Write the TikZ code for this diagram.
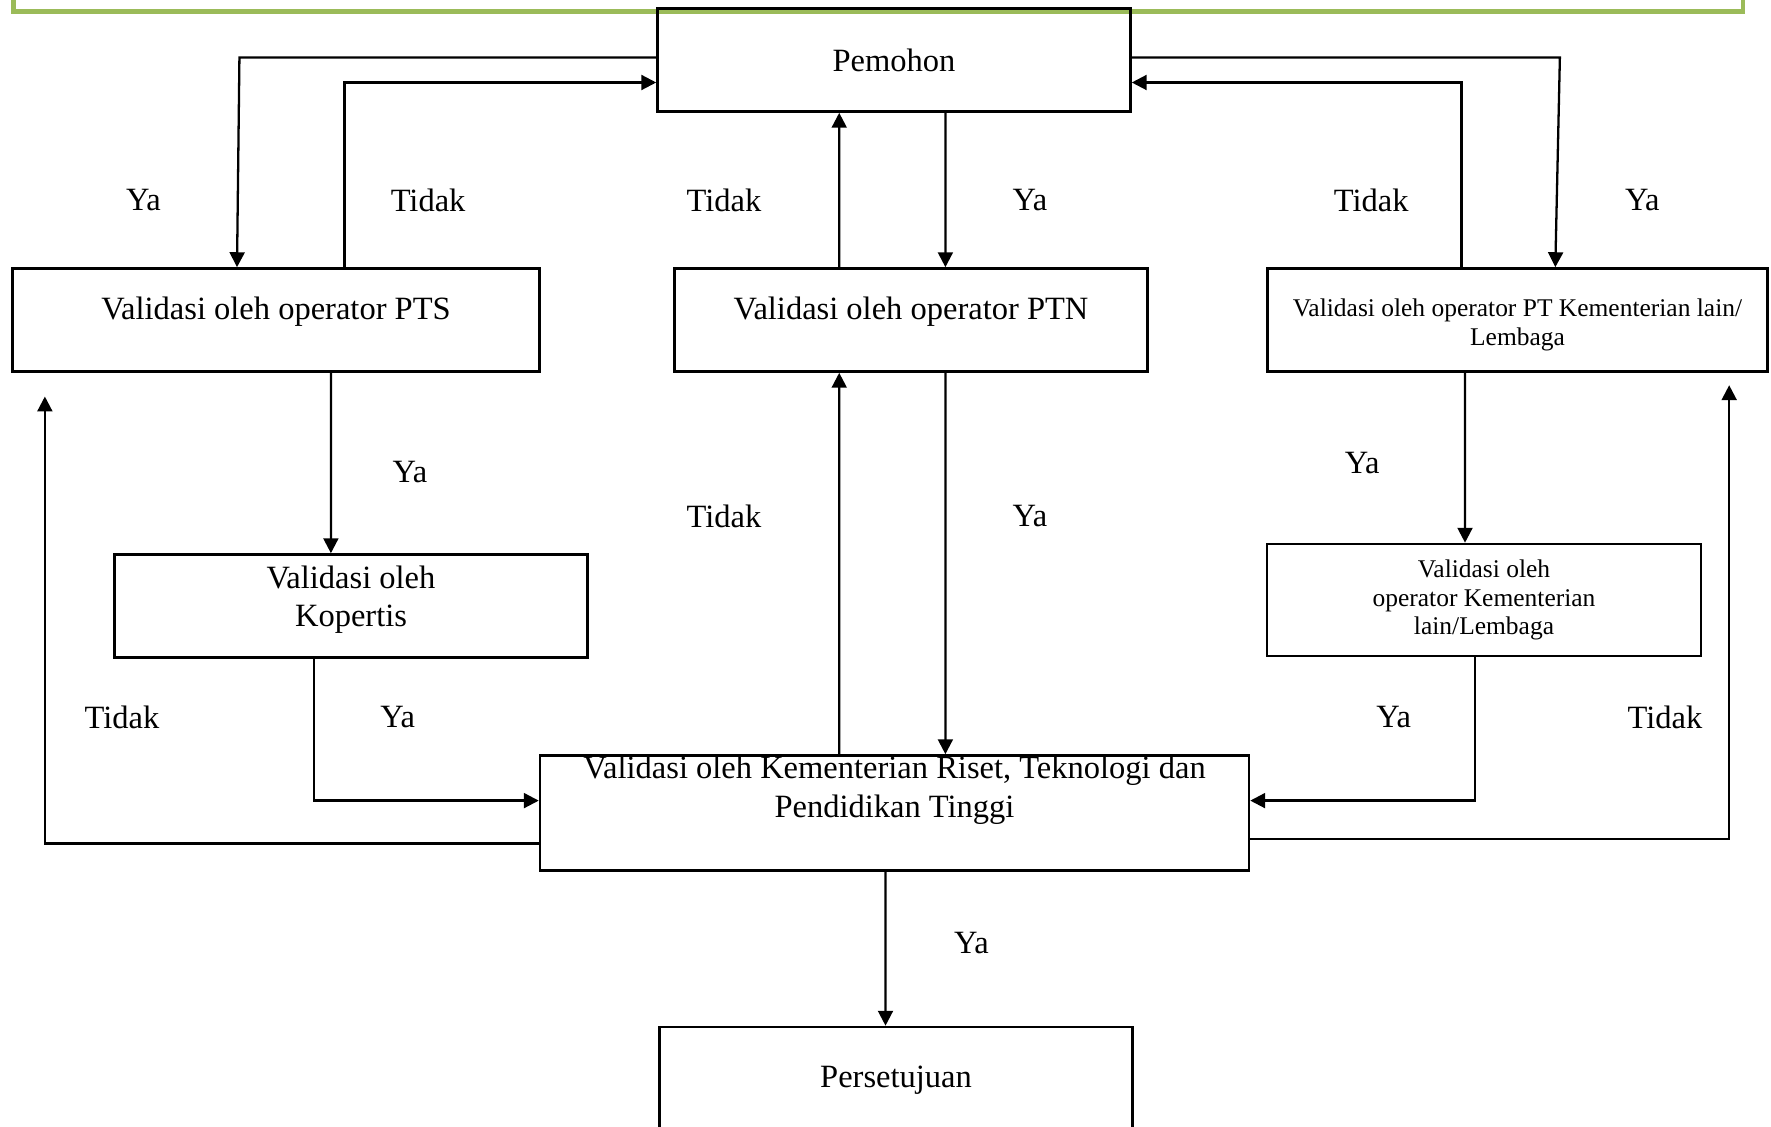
\documentclass[tikz,border=0pt]{standalone}
\usepackage{fontspec}
\setmainfont{Liberation Serif}
\usetikzlibrary{arrows.meta}
\definecolor{framegreen}{RGB}{155,187,89}
% invisible strut to lift or lower a box text
\newcommand{\lowstrut}[1]{\rule[-#1]{0pt}{#1}}
\newcommand{\highstrut}[1]{\rule{0pt}{#1}}

\tikzset{
  box/.style={draw,line width=1.5pt,minimum width=9.46cm,minimum height=2.06cm,
    align=center,font=\fontsize{18.5}{22}\selectfont},
  smallbox/.style={box,font=\fontsize{14.5}{16.3}\selectfont},
  lbl/.style={font=\fontsize{18.5}{22}\selectfont},
  arr/.style={->,line width=1.3pt},
}

\begin{document}
\begin{tikzpicture}[x=0.02cm,y=0.02cm,>={Triangle[length=8.5pt,width=8.5pt]}]
  \useasboundingbox (0,0) rectangle (1771,-1126);
  % green frame at the top
  \draw[framegreen,line width=0.09cm] (13.5,10) -- (13.5,-11.3) -- (1743,-11.3) -- (1743,10);

  % boxes
  \node[box] (pem) at (894,-60) {Pemohon};
  \node[box,minimum width=10.55cm] (pts) at (276,-320) {Validasi oleh operator PTS\lowstrut{0.46cm}};
  \node[box] (ptn) at (911,-320) {Validasi oleh operator PTN\lowstrut{0.46cm}};
  \node[smallbox,minimum width=10cm] (ptk) at (1517.5,-320) {\highstrut{0.54cm}Validasi oleh operator PT Kementerian lain/\\Lembaga};
  \node[box] (kop) at (351,-606) {Validasi oleh\\Kopertis\lowstrut{0.39cm}};
  \node[smallbox,minimum width=8.68cm,minimum height=2.24cm] (kl) at (1484,-600) {Validasi oleh\\operator Kementerian\\lain/Lembaga};
  \node[box,minimum width=14.18cm,minimum height=2.3cm,
    label={[anchor=north,align=center,inner sep=1pt,lbl]north:Validasi oleh Kementerian Riset, Teknologi dan\\Pendidikan Tinggi}] (krt) at (894.5,-813) {};
  \node[box,minimum height=2.12cm] (per) at (896,-1080) {Persetujuan};

  % Pemohon <-> first level
  \draw[arr] ([yshift=.05cm]pem.west) -- ++(-416.8,0) -- ([xshift=-.78cm]pts.north);
  \draw[arr] ([xshift=1.37cm]pts.north) |- ([yshift=-.45cm]pem.west);
  \draw[arr] ([xshift=-1.436cm]ptn.north) -- ([xshift=-1.096cm]pem.south);
  \draw[arr] ([xshift=1.028cm]pem.south) -- ([xshift=.688cm]ptn.north);
  \draw[arr] ([yshift=.05cm]pem.east) -- ++(428.1,0) -- ([xshift=.756cm]ptk.north);
  \draw[arr] ([xshift=-1.118cm]ptk.north) |- ([yshift=-.45cm]pem.east);

  % first level -> second level
  \draw[arr] ([xshift=1.098cm]pts.south) -- ([xshift=-.402cm]kop.north);
  \draw[arr] ([xshift=-1.05cm]ptk.south) -- ([xshift=-.38cm]kl.north);

  % into Kementerian Riset
  \draw[arr] ([xshift=-.74cm]kop.south) |- ([yshift=.248cm]krt.west);
  \draw[arr] ([xshift=-.178cm]kl.south) |- ([yshift=.248cm]krt.east);
  \draw[arr] ([xshift=.688cm]ptn.south) -- ([xshift=1.018cm]krt.north);
  \draw[arr] ([xshift=-1.106cm]krt.north) -- ([xshift=-1.436cm]ptn.south);

  % back when rejected
  \draw[arr] ([yshift=-.61cm]krt.west) -| ([xshift=.678cm,yshift=-.474cm]pts.south west);
  \draw[arr] ([yshift=-.52cm]krt.east) -| ([xshift=-.792cm,yshift=-.248cm]ptk.south east);

  % to Persetujuan
  \draw[arr] ([xshift=-.18cm]krt.south) -- ([xshift=-.21cm]per.north);

  % labels
  \node[lbl] (ya1) at (143.4,-199.9) {Ya};
  \node[lbl] (td1) at (428.1,-199.9) {Tidak};
  \node[lbl] (td2) at (724,-199.9) {Tidak};
  \node[lbl] (ya2) at (1030,-199.9) {Ya};
  \node[lbl] (td3) at (1371.2,-199.9) {Tidak};
  \node[lbl] (ya3) at (1642.3,-199.9) {Ya};
  \node[lbl] (ya4) at (410,-472.1) {Ya};
  \node[lbl] (td4) at (724,-516.2) {Tidak};
  \node[lbl] (ya5) at (1030,-516.2) {Ya};
  \node[lbl] (ya6) at (1362.2,-463.1) {Ya};
  \node[lbl] (td5) at (122,-717.2) {Tidak};
  \node[lbl] (ya7) at (397.6,-717.2) {Ya};
  \node[lbl] (ya8) at (1393.8,-717.2) {Ya};
  \node[lbl] (td6) at (1664.9,-717.2) {Tidak};
  \node[lbl] (ya9) at (971.4,-943.1) {Ya};
\end{tikzpicture}
\end{document}
